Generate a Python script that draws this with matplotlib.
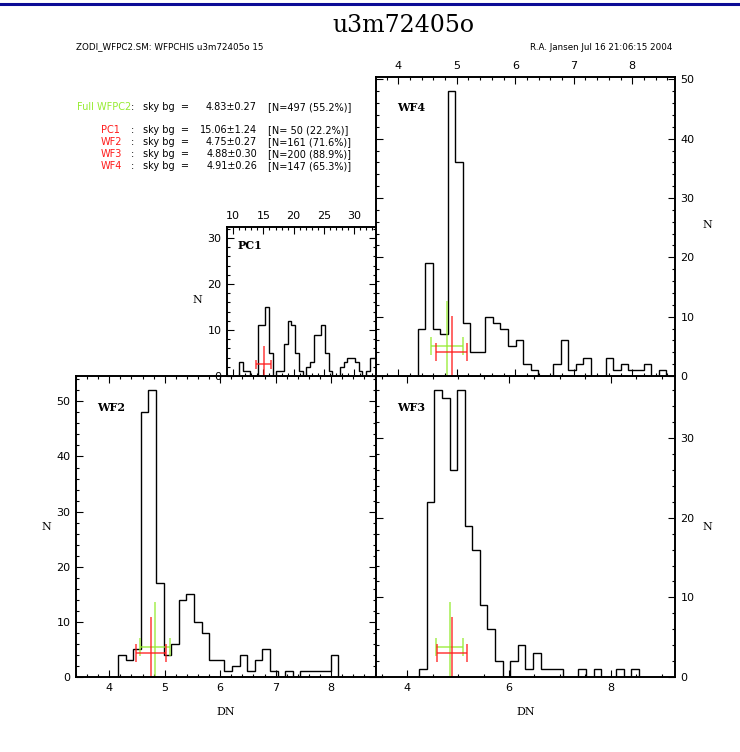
import numpy as np
import matplotlib.pyplot as plt
from matplotlib.lines import Line2D
from matplotlib.ticker import MultipleLocator

W, H = 740, 752

# sky background statistics per chip
chips = ['PC1', 'WF2', 'WF3', 'WF4']
sky_mean = [15.06, 4.75, 4.88, 4.91]
sky_sigma = [1.24, 0.27, 0.30, 0.26]
sky_n = [50, 161, 200, 147]
sky_pct = [22.2, 71.6, 88.9, 65.3]
full_mean, full_sigma, full_n, full_pct = 4.83, 0.27, 497, 55.2

# histograms: first bin edge, bin width and counts
pc1_start, pc1_width = 10.98, 0.618
pc1_counts = [3, 1, 1, 0, 0, 11, 11, 15, 5, 0, 1, 1, 7, 12, 11, 5, 1, 0, 2, 3,
              9, 9, 11, 5, 1, 0, 0, 2, 3, 4, 4, 3, 1, 0, 1, 4, 4]
wf2_start, wf2_width = 4.158, 0.137
wf2_counts = [4, 3, 5, 48, 52, 17, 4, 6, 14, 15, 10, 8, 3, 3, 1, 2, 4, 1, 3, 5,
              1, 0, 1, 0, 1, 1, 1, 1, 4, 0, 0, 0, 0, 0, 1]
wf3_start, wf3_width = 4.236, 0.149
wf3_counts = [1, 22, 36, 35, 26, 36, 19, 16, 9, 6, 2, 0, 2, 4, 1, 3, 1, 1, 1, 0,
              0, 1, 0, 1, 0, 0, 1, 0, 1]
wf4_start, wf4_width = 4.331, 0.1287
wf4_counts = [8, 19, 8, 7, 48, 36, 9, 4, 4, 10, 9, 8, 5, 6, 2, 1, 0, 0, 2, 6,
              1, 2, 3, 0, 0, 3, 1, 2, 1, 1, 2, 0, 1]

GREEN = '#96ec32'
RED = '#ff1a1a'

fig = plt.figure(figsize=(W / 100, H / 100), dpi=100)


def fx(px):
    return px / W


def fy(py):
    return 1 - py / H


def errbar(ax, m, s, yh, ytop, cap, color):
    kw = dict(color=color, lw=1.1, alpha=0.85, solid_capstyle='butt')
    ax.plot([m - s, m + s], [yh, yh], **kw)
    ax.plot([m - s, m - s], [yh - cap, yh + cap], **kw)
    ax.plot([m + s, m + s], [yh - cap, yh + cap], **kw)
    ax.plot([m, m], [0, ytop], **kw)


def panel(rect, name, start, width, counts, mean, sigma, xlim, ymax,
          xmaj, xmin, sides, nlab_x, nlab_y):
    ax = fig.add_axes(rect)
    edges = start + width * np.arange(len(counts) + 1)
    ax.stairs(counts, edges, color='black', lw=1.0, baseline=0)
    errbar(ax, full_mean, full_sigma, 0.10 * ymax, 0.25 * ymax, 0.03 * ymax, GREEN)
    errbar(ax, mean, sigma, 0.08 * ymax, 0.20 * ymax, 0.03 * ymax, RED)
    ax.set_xlim(*xlim)
    ax.set_ylim(0, ymax)
    ax.xaxis.set_major_locator(MultipleLocator(xmaj))
    ax.xaxis.set_minor_locator(MultipleLocator(xmin))
    ax.yaxis.set_major_locator(MultipleLocator(10))
    ax.yaxis.set_minor_locator(MultipleLocator(2))
    ax.tick_params(which='both', direction='in', top=True, bottom=True,
                   left=True, right=True, width=0.8, labelsize=8, pad=4,
                   labelbottom='bottom' in sides, labeltop='top' in sides,
                   labelleft='left' in sides, labelright='right' in sides)
    ax.tick_params(which='major', length=5)
    ax.tick_params(which='minor', length=2.5)
    for sp in ax.spines.values():
        sp.set_linewidth(1.4)
    ax.text(0.07, 0.915, name, transform=ax.transAxes, ha='left', va='top',
            family='DejaVu Serif', fontsize=8, fontweight='bold')
    ax.text(nlab_x, nlab_y, 'N', transform=ax.transAxes, ha='center',
            va='center', family='DejaVu Serif', fontsize=8)
    if 'bottom' in sides:
        ax.text(0.5, -0.116, 'DN', transform=ax.transAxes, ha='center',
                va='center', family='DejaVu Serif', fontsize=8)
    return ax


panel([fx(76), fy(677), fx(300), 301 / H], 'WF2', wf2_start, wf2_width,
      wf2_counts, sky_mean[1], sky_sigma[1], (3.40, 8.81), 54.6, 1, 0.2,
      ('left', 'bottom'), -0.10, 0.498)
panel([fx(376), fy(677), fx(299), 301 / H], 'WF3', wf3_start, wf3_width,
      wf3_counts, sky_mean[2], sky_sigma[2], (3.384, 9.265), 37.8, 2, 0.5,
      ('right', 'bottom'), 1.107, 0.498)
panel([fx(376), fy(376), fx(299), 299 / H], 'WF4', wf4_start, wf4_width,
      wf4_counts, sky_mean[3], sky_sigma[3], (3.619, 8.73), 50.4, 1, 0.2,
      ('right', 'top'), 1.107, 0.505)
panel([fx(227), fy(376), fx(149), 149 / H], 'PC1', pc1_start, pc1_width,
      pc1_counts, sky_mean[0], sky_sigma[0], (8.96, 33.65), 32.4, 5, 1,
      ('left', 'top'), -0.20, 0.51)

# header
fig.add_artist(Line2D([0, 1], [fy(3.5), fy(3.5)], color='#0c0c96', lw=2.2))
fig.text(fx(403), fy(26), 'u3m72405o', ha='center', va='center',
         family='DejaVu Serif', fontsize=17)
fig.text(fx(76), fy(47), 'ZODI_WFPC2.SM: WFPCHIS u3m72405o 15', ha='left',
         va='center', fontsize=6.3)
fig.text(fx(672), fy(47), 'R.A. Jansen Jul 16 21:06:15 2004', ha='right',
         va='center', fontsize=6.3)

# statistics block
rows = [('Full WFPC2', full_mean, full_sigma, full_n, full_pct, GREEN, 77, 107)]
for i, c in enumerate(chips):
    rows.append((c, sky_mean[i], sky_sigma[i], sky_n[i], sky_pct[i], RED,
                 101, 130 + 12 * i))
for lab, m, s, n, p, col, x0, y0 in rows:
    fig.text(fx(x0), fy(y0), lab, color=col, ha='left', va='center', fontsize=7)
    fig.text(fx(131), fy(y0), ':', ha='left', va='center', fontsize=7)
    fig.text(fx(143), fy(y0), 'sky bg  =', ha='left', va='center', fontsize=7)
    fig.text(fx(257), fy(y0), f'{m:.2f}\u00b1{s:.2f}', ha='right',
             va='center', fontsize=7)
    fig.text(fx(268), fy(y0), f'[N={n:3d} ({p:.1f}%)]', ha='left',
             va='center', fontsize=7)

fig.savefig('out.png', dpi=100)
